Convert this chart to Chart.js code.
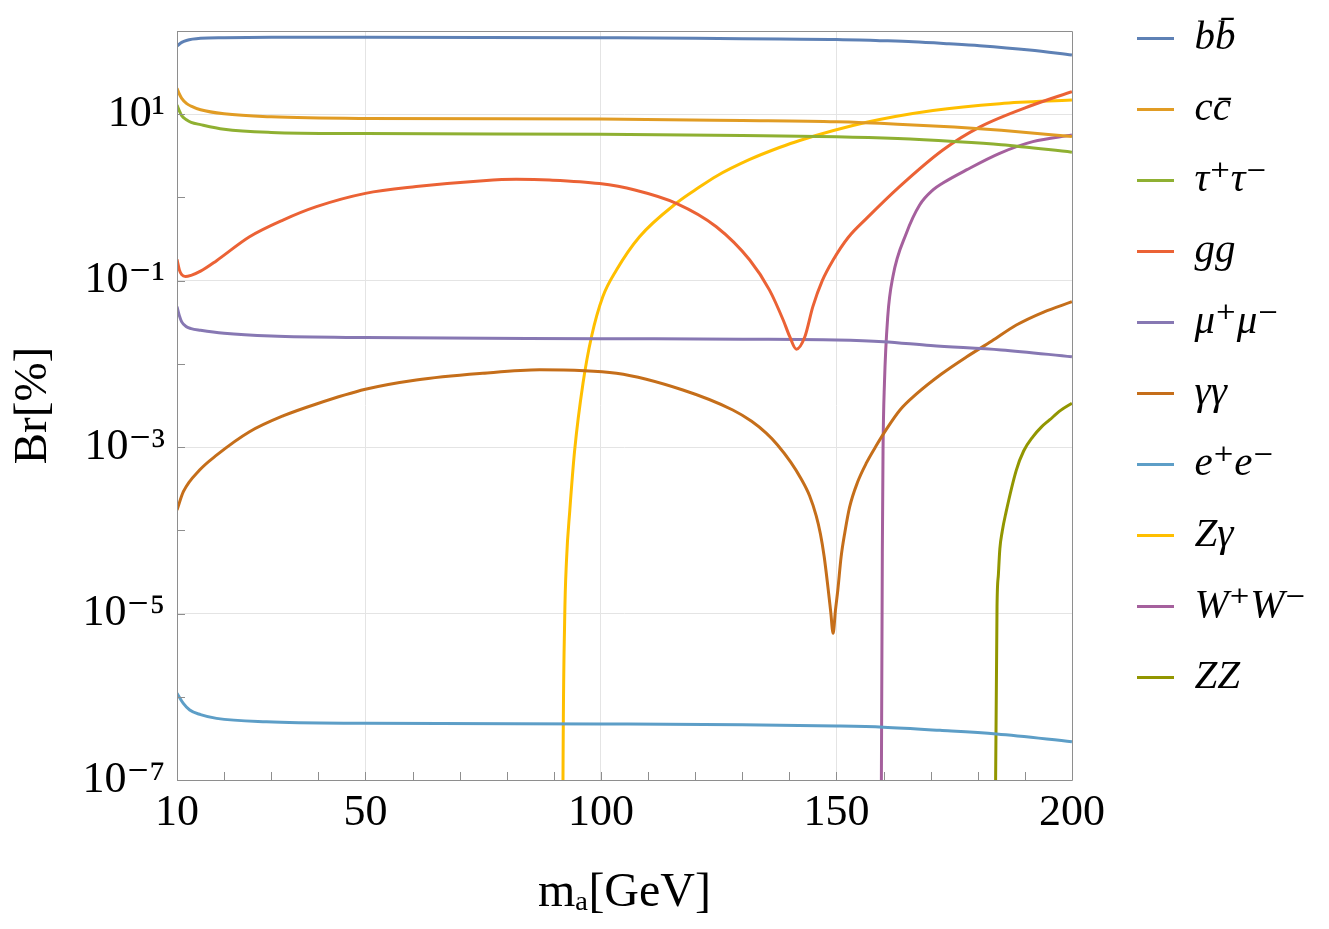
<!DOCTYPE html>
<html><head><meta charset="utf-8">
<script src="https://cdn.jsdelivr.net/npm/chart.js@4.4.1/dist/chart.umd.min.js"></script>
<style>html,body{margin:0;padding:0;background:#fff;}canvas{display:block;}</style>
</head><body>
<canvas id="c" width="1329" height="929"></canvas>
<script>
// ---- data (m_a in GeV, Br in %) ----
const mass_bb = [10, 11, 12, 15, 20, 30, 50, 75, 100, 120, 138, 150, 159.2, 166.3, 173.9, 180.4, 191, 200];
const br_bb   = [66, 73, 77, 81.6, 83, 84, 84, 83.8, 83, 82, 80.1, 79.2, 76.6, 74.3, 70.3, 66.6, 59.1, 51.5];

const mass_cc = [10, 10.5, 11, 12, 13, 15, 20, 30, 50, 100, 130, 150, 163, 175, 185, 200];
const br_cc   = [20.5, 17.5, 15.5, 13.5, 12.5, 11.3, 10.1, 9.3, 8.9, 8.75, 8.4, 8.1, 7.6, 7.0, 6.4, 5.4];

const mass_tt = [10, 10.5, 11, 12, 13, 15, 20, 30, 50, 100, 130, 150, 163, 175, 185, 200];
const br_tt   = [12.9, 11.0, 9.6, 8.6, 8.0, 7.5, 6.6, 6.05, 5.85, 5.73, 5.55, 5.37, 5.1, 4.7, 4.3, 3.5];

const mass_gg = [10, 10.5, 11, 11.8, 13, 15, 18.4, 25.4, 32.5, 39.6, 50, 60.8, 75, 82, 89.1, 99.7, 107.2, 116, 124.5, 131.6, 135.8, 138.7, 140.1, 141.5, 143.3, 145.0, 147.0, 149.3, 152.5, 156.4, 163.4, 172.6, 180.4, 191.7, 200];
const br_gg   = [0.18, 0.135, 0.118, 0.112, 0.116, 0.13, 0.174, 0.337, 0.535, 0.775, 1.12, 1.35, 1.59, 1.65, 1.62, 1.47, 1.23, 0.85, 0.445, 0.177, 0.077, 0.0337, 0.0212, 0.015, 0.0212, 0.0487, 0.1, 0.177, 0.33, 0.56, 1.35, 3.72, 7.0, 12.9, 18.7];

const mass_mm = [10, 10.5, 11, 12, 13, 15, 20, 30, 50, 100, 130, 150, 160, 170, 185, 200];
const br_mm   = [0.0486, 0.038, 0.032, 0.028, 0.0265, 0.0253, 0.0233, 0.0216, 0.0207, 0.0201, 0.0198, 0.0194, 0.0185, 0.0166, 0.0147, 0.0122];

const mass_aa = [10, 11.35, 14.8, 18.4, 25.4, 32.5, 39.6, 50, 60.8, 74.9, 87, 103.3, 117.4, 128, 132, 135.1, 137.5, 140.3, 142.5, 144.3, 145.7, 146.6, 147.4, 148.2, 148.8, 149.3, 149.8, 150.3, 151.0, 151.8, 152.8, 154.5, 156.4, 158.5, 160.5, 163.5, 167, 172.3, 177.6, 183, 188.2, 194, 200];
const br_aa   = [1.75e-4, 2.91e-4, 5.3e-4, 8.0e-4, 1.53e-3, 2.37e-3, 3.3e-3, 4.95e-3, 6.4e-3, 7.7e-3, 8.5e-3, 7.7e-3, 4.85e-3, 2.79e-3, 2.04e-3, 1.47e-3, 1.06e-3, 6.59e-4, 4.16e-4, 2.6e-4, 1.5e-4, 9.1e-5, 4.84e-5, 2.08e-5, 1.04e-5, 5.8e-6, 1.1e-5, 1.92e-5, 4.8e-5, 9.5e-5, 1.9e-4, 3.8e-4, 6.5e-4, 1.05e-3, 1.6e-3, 2.79e-3, 4.35e-3, 7.55e-3, 0.0121, 0.0188, 0.0293, 0.042, 0.0558];

const mass_ee = [10, 11.3, 12.7, 15, 18.4, 29, 50, 100, 130, 150, 160, 172, 184, 200];
const br_ee   = [1.1e-6, 8.4e-7, 6.93e-7, 6.1e-7, 5.5e-7, 5.0e-7, 4.8e-7, 4.71e-7, 4.62e-7, 4.45e-7, 4.3e-7, 3.95e-7, 3.57e-7, 2.89e-7];

const mass_za = [91.85, 91.95, 92.3, 92.7, 93.4, 94.43, 96.2, 98.0, 100.4, 103.3, 108.2, 116, 121, 124.5, 131.6, 137.9, 142.2, 156.4, 170.5, 184.7, 200];
const br_za   = [1e-9, 1e-7, 8e-6, 4.4e-5, 1.75e-4, 9.2e-4, 5.85e-3, 0.0212, 0.064, 0.134, 0.337, 0.851, 1.34, 1.80, 2.86, 3.98, 4.84, 8.0, 11.1, 13.4, 14.8];

const mass_ww = [159.45, 159.55, 159.75, 159.9, 160.2, 160.9, 162.0, 164.85, 167.67, 170.5, 172.6, 177.6, 184.65, 191.7, 200];
const br_ww   = [1e-9, 1e-7, 5.3e-5, 9.2e-4, 5.85e-3, 0.037, 0.112, 0.371, 0.811, 1.23, 1.49, 2.14, 3.39, 4.68, 5.63];

const mass_zz = [183.6, 183.8, 184.1, 184.4, 184.7, 185.2, 185.96, 188.2, 189.75, 191.7, 193.5, 195.25, 197.6, 200];
const br_zz   = [1e-9, 1e-7, 1.2e-5, 3e-5, 6e-5, 9.7e-5, 1.6e-4, 5.3e-4, 8.98e-4, 1.33e-3, 1.74e-3, 2.12e-3, 2.76e-3, 3.36e-3];

const seriesLabels = ['bb\u0304', 'cc\u0304', '\u03C4\u207A\u03C4\u207B', 'gg', '\u03BC\u207A\u03BC\u207B', '\u03B3\u03B3', 'e\u207Ae\u207B', 'Z\u03B3', 'W\u207AW\u207B', 'ZZ'];
const seriesColors = ['#5E81B5', '#E19C24', '#8FB032', '#EB6235', '#8778B3', '#C56E1A', '#5D9EC7', '#FFBF00', '#A5609D', '#929600'];
const seriesMass = [mass_bb, mass_cc, mass_tt, mass_gg, mass_mm, mass_aa, mass_ee, mass_za, mass_ww, mass_zz];
const seriesBr   = [br_bb, br_cc, br_tt, br_gg, br_mm, br_aa, br_ee, br_za, br_ww, br_zz];

const xTickLabels = [10, 50, 100, 150, 200];
const xGridValues = [50, 100, 150];
const yTickExponents = [-7, -6, -5, -4, -3, -2, -1, 0, 1, 2];
const yLabelExponents = [-7, -5, -3, -1, 1];
const yLabelTexts = ['10\u207B\u2077', '10\u207B\u2075', '10\u207B\u00B3', '10\u207B\u00B9', '10\u00B9'];
const yGridExponents = [-5, -3, -1, 1];

// ---- layout constants ----
const SERIF = "'Liberation Serif', 'DejaVu Serif', serif";
const PLOT_LEFT = 177, PLOT_TOP = 31, PLOT_BOTTOM = 780, CANVAS_H = 929;
const LEGEND_X = 1137, LEGEND_Y = 18;

const datasets = seriesLabels.map((lab, i) => ({
  label: lab,
  data: seriesMass[i].map((m, j) => ({ x: m, y: seriesBr[i][j] })),
  borderColor: seriesColors[i],
  backgroundColor: seriesColors[i],
  borderWidth: 3,
  pointRadius: 0,
  pointHoverRadius: 0,
  cubicInterpolationMode: 'monotone',
  fill: false
}));

const frameTicks = {
  id: 'frameTicks',
  afterDatasetsDraw(chart) {
    const { ctx, chartArea: a, scales: { x, y } } = chart;
    ctx.save();
    ctx.strokeStyle = '#8e8e8e';
    ctx.lineWidth = 1;
    ctx.beginPath();
    ctx.rect(Math.round(a.left) + 0.5, Math.round(a.top) + 0.5, Math.round(a.right - a.left), Math.round(a.bottom - a.top));
    x.ticks.forEach(t => {
      const px = Math.round(x.getPixelForValue(t.value)) + 0.5;
      ctx.moveTo(px, a.bottom); ctx.lineTo(px, a.bottom - 8);
    });
    y.ticks.forEach(t => {
      const py = Math.round(y.getPixelForValue(t.value)) + 0.5;
      ctx.moveTo(a.left, py); ctx.lineTo(a.left + 8, py);
    });
    ctx.stroke();
    ctx.restore();
  }
};

const legendShift = {
  id: 'legendShift',
  afterLayout(chart) {
    const lg = chart.legend;
    if (!lg) return;
    const pad = lg.options.labels.padding;
    const dx = LEGEND_X - (lg.left + pad);
    const dy = LEGEND_Y - (lg.top + pad);
    lg.left += dx; lg.right += dx; lg.top += dy; lg.bottom += dy;
  }
};

new Chart(document.getElementById('c'), {
  type: 'line',
  data: { datasets },
  plugins: [frameTicks, legendShift],
  options: {
    responsive: false,
    animation: false,
    devicePixelRatio: 1,
    layout: { padding: { top: PLOT_TOP, right: 48, bottom: 0, left: 0 } },
    plugins: {
      tooltip: { enabled: false },
      legend: {
        position: 'right',
        align: 'start',
        labels: {
          boxWidth: 37,
          boxHeight: 3,
          padding: 30,
          color: '#000',
          font: { family: SERIF, size: 41, style: 'italic' },
          generateLabels: (chart) => chart.data.datasets.map((ds, i) => ({
            text: ds.label,
            fillStyle: ds.borderColor,
            strokeStyle: ds.borderColor,
            lineWidth: 0,
            fontColor: '#000',
            hidden: false,
            datasetIndex: i
          }))
        }
      }
    },
    scales: {
      x: {
        type: 'linear',
        min: 10,
        max: 200,
        border: { display: false },
        grid: {
          drawTicks: false,
          lineWidth: 1,
          color: c => (c.tick && xGridValues.includes(c.tick.value)) ? '#e4e4e4' : 'rgba(0,0,0,0)'
        },
        ticks: {
          stepSize: 10,
          autoSkip: false,
          maxRotation: 0,
          padding: 7,
          color: '#000',
          font: { family: SERIF, size: 44 },
          callback: v => xTickLabels.includes(v) ? String(v) : ''
        },
        title: {
          display: true,
          text: 'm\u2090[GeV]',
          color: '#000',
          font: { family: SERIF, size: 48 },
          padding: { top: 0, bottom: 7 }
        },
        afterFit: s => { s.height = CANVAS_H - PLOT_BOTTOM; }
      },
      y: {
        type: 'logarithmic',
        min: 1e-7,
        max: 100,
        border: { display: false },
        afterBuildTicks: s => { s.ticks = yTickExponents.map(e => ({ value: Math.pow(10, e) })); },
        grid: {
          drawTicks: false,
          lineWidth: 1,
          color: c => (c.tick && yGridExponents.includes(Math.round(Math.log10(c.tick.value)))) ? '#e4e4e4' : 'rgba(0,0,0,0)'
        },
        ticks: {
          autoSkip: false,
          padding: 12,
          color: '#000',
          font: { family: SERIF, size: 44 },
          callback: v => {
            const k = yLabelExponents.indexOf(Math.round(Math.log10(v)));
            return k >= 0 ? yLabelTexts[k] : '';
          }
        },
        title: {
          display: true,
          text: 'Br[%]',
          color: '#000',
          font: { family: SERIF, size: 47 },
          padding: { top: 5, bottom: 0 }
        },
        afterFit: s => { s.width = PLOT_LEFT; s.paddingTop = 0; s.paddingBottom = 0; }
      }
    }
  }
});
</script>
</body></html>
